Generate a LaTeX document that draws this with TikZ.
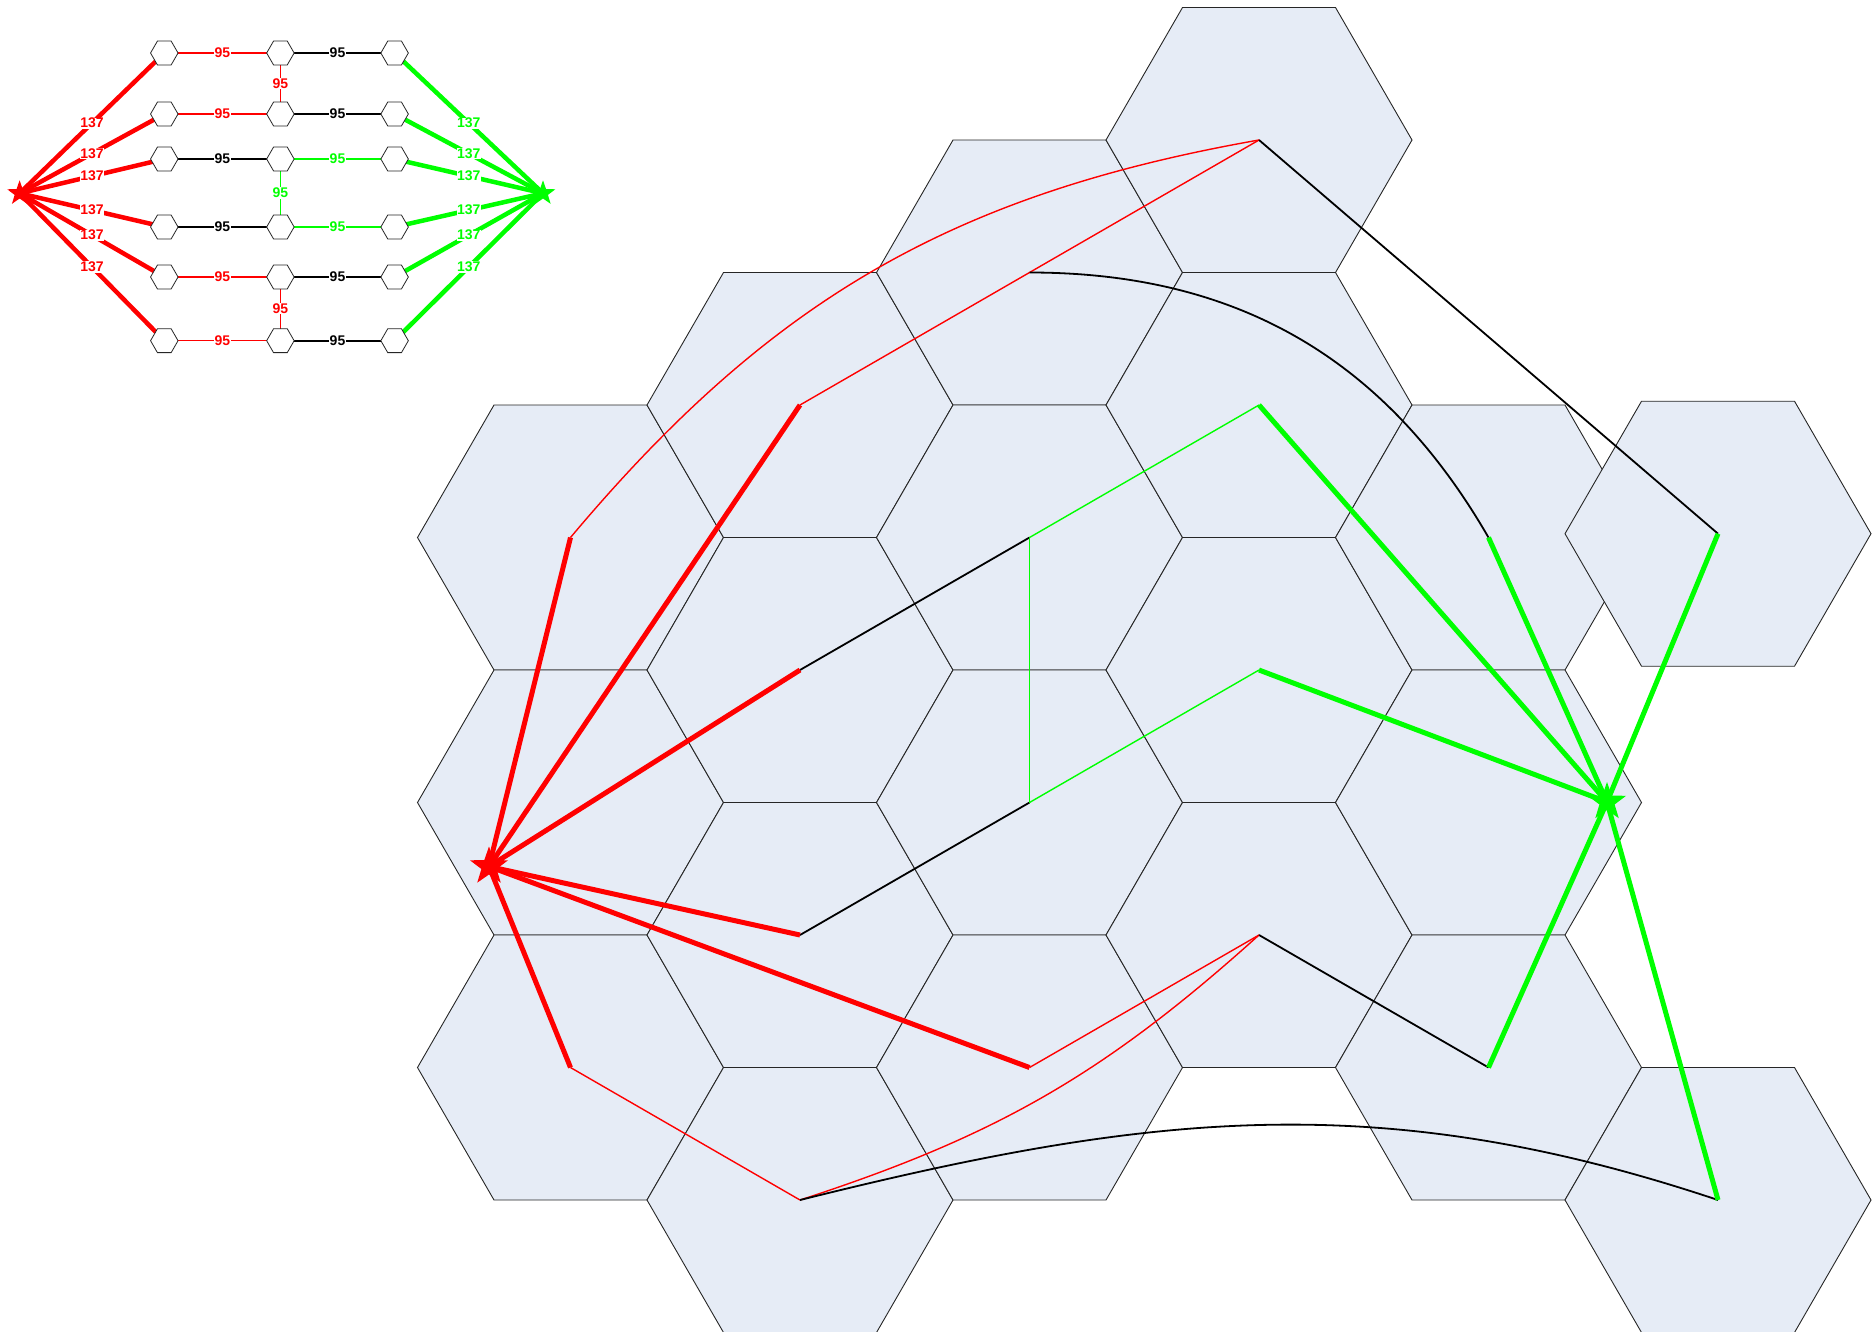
\documentclass[tikz,border=0pt]{standalone}
\usepackage{fontspec}
\setmainfont{Liberation Sans}
\usetikzlibrary{shapes.geometric, positioning}
\definecolor{tilefill}{RGB}{230,236,246}
\definecolor{lime}{RGB}{0,255,0}

\begin{document}
\begin{tikzpicture}[x=1pt, y=1pt, font=\bfseries\fontsize{14}{16}\selectfont,
  tile/.style={fill=tilefill, draw=black!85, line width=0.9pt},
  minihex/.style={regular polygon, regular polygon sides=6, draw=black!85,
    fill=white, minimum size=27.5pt, inner sep=0pt, line width=0.8pt},
  srcstar/.style={star, star points=5, star point ratio=2.5, fill=red,
    inner sep=0pt},
  sinkstar/.style={srcstar, fill=lime},
  wlabel/.style={fill=white, inner sep=0.6pt},
  redfat/.style={red, line width=5pt},
  redline/.style={red, line width=1.4pt},
  greenfat/.style={lime, line width=5pt},
  greenline/.style={lime, line width=1.4pt},
  blackline/.style={black, line width=1.8pt}]
  \useasboundingbox (0,0) rectangle (1874,-1331);

  % Hex tiles
  \foreach \n/\x/\y in {c0r0/570.5/537.5, c0r1/570.5/802.5, c0r2/570.5/1067.5,
      c1r0/800/405, c1r1/800/670, c1r2/800/935, c1r3/800/1200,
      c2r0/1029.5/272.5, c2r1/1029.5/537.5, c2r2/1029.5/802.5, c2r3/1029.5/1067.5,
      c3r0/1259/140, c3r1/1259/405, c3r2/1259/670, c3r3/1259/935,
      c4r0/1488.5/537.5, c4r1/1488.5/802.5, c4r2/1488.5/1067.5,
      c5r0/1718/533.7, c5r1/1718/1200}{
    \coordinate (\n) at (\x,-\y);
    \draw[tile] (\n) +(0:153) -- +(60:153) -- +(120:153) -- +(180:153)
      -- +(240:153) -- +(300:153) -- cycle;
  }
  \coordinate (src) at (489,-866.5);
  \coordinate (sink) at (1607,-802);

  % Thin links between tiles
  \draw[redline] (c0r0) to[bend left=20] (c3r0);
  \draw[redline] (c1r0) -- (c2r0) -- (c3r0);
  \draw[redline] (c2r3) -- (c3r3);
  \draw[redline] (c0r2) -- (c1r3);
  \draw[redline] (c1r3) to[bend right=12] (c3r3);
  \draw[blackline] (c3r0) -- (c5r0);
  \draw[blackline] (c2r0) to[bend left=30] (c4r0);
  \draw[blackline] (c1r1) -- (c2r1);
  \draw[blackline] (c1r2) -- (c2r2);
  \draw[blackline] (c3r3) -- (c4r2);
  \draw[blackline] (c1r3) to[out=14, in=161.5] (c5r1);
  \draw[greenline] (c2r1) -- (c3r1);
  \draw[greenline] (c2r1) -- (c2r2);
  \draw[greenline] (c2r2) -- (c3r2);

  % Source and sink fans
  \foreach \t in {c0r0, c1r0, c1r1, c1r2, c2r3, c0r2}
    \draw[redfat] (src) -- (\t);
  \foreach \t in {c3r1, c3r2, c4r0, c5r0, c4r2, c5r1}
    \draw[greenfat] (\t) -- (sink);
  \node[srcstar, minimum size=40pt] (srcmark) at (src) {};
  \node[sinkstar, minimum size=40pt] (sinkmark) at (sink) {};

  % Inset: layered graph
  \coordinate (s) at (19.6,-193.3);
  \coordinate (t) at (543,-193.3);
  \foreach \r/\y in {1/53, 2/114, 3/159, 4/227, 5/277, 6/340.7}{
    \coordinate (a\r) at (164.3,-\y);
    \coordinate (b\r) at (280.4,-\y);
    \coordinate (c\r) at (394.6,-\y);
  }
  \foreach \r in {1,...,6}{
    \draw[redfat, line width=4.5pt] (s) -- node[wlabel, text=red] {137} (a\r);
    \draw[greenfat, line width=4.5pt] (c\r) -- node[wlabel, text=lime] {137} (t);
  }
  \foreach \u/\v/\col/\w in {a1/b1/red/1.1, b1/c1/black/1.6, a2/b2/red/1.1,
      b2/c2/black/1.6, a3/b3/black/1.6, b3/c3/lime/1.1, a4/b4/black/1.6,
      b4/c4/lime/1.1, a5/b5/red/1.1, b5/c5/black/1.6, a6/b6/red/1.1,
      b6/c6/black/1.6, b1/b2/red/1.4, b3/b4/lime/1.4, b5/b6/red/1.4}{
    \draw[\col, line width=\w pt] (\u) -- node[wlabel, text=\col] {95} (\v);
  }
  \foreach \r in {1,...,6}{
    \node[minihex] (ha\r) at (a\r) {};
    \node[minihex] (hb\r) at (b\r) {};
    \node[minihex] (hc\r) at (c\r) {};
  }
  \node[srcstar, minimum size=26pt] (smark) at (s) {};
  \node[sinkstar, minimum size=26pt] (tmark) at (t) {};
\end{tikzpicture}
\end{document}
